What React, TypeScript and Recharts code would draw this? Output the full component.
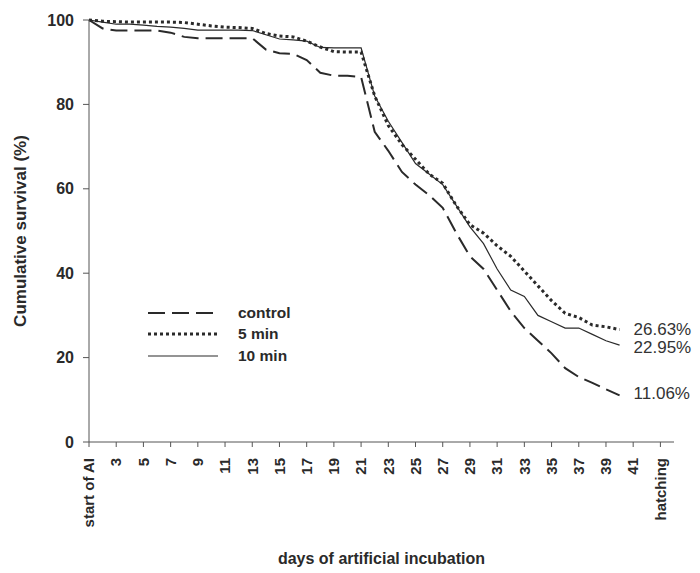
import { Label, Legend, Line, LineChart, XAxis, YAxis } from 'recharts';

// days of artificial incubation (1 = start of AI)
const days = [
  1, 2, 3, 4, 5, 6, 7, 8, 9, 10, 11, 12, 13, 14, 15, 16, 17, 18, 19, 20,
  21, 22, 23, 24, 25, 26, 27, 28, 29, 30, 31, 32, 33, 34, 35, 36, 37, 38, 39, 40,
];

const control = [
  100, 98, 97.5, 97.5, 97.5, 97.5, 97, 96, 95.7, 95.7, 95.7, 95.7, 95.7, 93, 92.1, 92, 90.5, 87.5, 86.8, 86.8,
  86.5, 73.5, 69, 64, 61, 58.5, 55.5, 49.5, 44, 41, 36, 31, 27, 24, 21, 17.5, 15.4, 14, 12.5, 11.06,
];

const min5 = [
  100, 99.7, 99.6, 99.5, 99.5, 99.5, 99.5, 99.4, 99, 98.6, 98.3, 98.2, 98, 96.8, 96.2, 96, 95, 93.6, 92.5, 92.4,
  92.4, 82, 75, 70.5, 67, 63.5, 61.3, 56, 51.5, 49.5, 46.5, 44, 40.5, 37, 33.5, 30.5, 29.5, 27.7, 27.3, 26.63,
];

const min10 = [
  100, 99.5, 99, 99, 98.8, 98.5, 98.3, 98, 97.6, 97.6, 97.6, 97.6, 97.5, 96.5, 95.5, 95.3, 95, 93.5, 93.4, 93.4,
  93.4, 82, 76, 71, 66, 63.5, 61, 56, 51, 47, 41, 36, 34.5, 30, 28.5, 27, 27, 25.5, 24, 22.95,
];

const xTicks = [1, 3, 5, 7, 9, 11, 13, 15, 17, 19, 21, 23, 25, 27, 29, 31, 33, 35, 37, 39, 41, 43];
const yTicks = [0, 20, 40, 60, 80, 100];

const endLabels = { control: '11.06%', min5: '26.63%', min10: '22.95%' };

const series = [
  { key: 'control', name: 'control', dash: '17 7', width: 2, labelDy: -2 },
  { key: 'min5', name: '5 min', dash: '3 3', width: 3, labelDy: -1 },
  { key: 'min10', name: '10 min', dash: undefined, width: 1.2, labelDy: 2 },
];

const data = days.map((d, i) => ({
  day: d,
  control: control[i],
  min5: min5[i],
  min10: min10[i],
}));

const FONT = '"Liberation Sans", Arial, sans-serif';
const INK = '#2a2a2a';

const tickText = (v: number) => (v === 1 ? 'start of AI' : v === 43 ? 'hatching' : String(v));

const XTick = ({ x, y, payload }: any) => (
  <g transform={`translate(${x},${y})`}>
    <text
      transform="rotate(-90)"
      x={-9}
      dy="0.35em"
      textAnchor="end"
      fill={INK}
      fontFamily={FONT}
      fontWeight="bold"
      fontSize={15}
    >
      {tickText(payload.value)}
    </text>
  </g>
);

const renderLegend = () => (
  <div style={{ fontFamily: FONT, fontWeight: 'bold', fontSize: 15.5, color: INK }}>
    {series.map((s) => (
      <div key={s.key} style={{ display: 'flex', alignItems: 'center', height: 21.5 }}>
        <svg width={92} height={10}>
          <line
            x1={2}
            y1={5}
            x2={72}
            y2={5}
            stroke={INK}
            strokeWidth={s.width}
            strokeDasharray={s.dash}
          />
        </svg>
        <span>{s.name}</span>
      </div>
    ))}
  </div>
);

const endLabel = (key: string, dy: number) => (props: any) => {
  const { x, y, index } = props;
  if (index !== days.length - 1) return null;
  return (
    <text
      x={x + 14}
      y={y + dy}
      dy="0.35em"
      fill="#333"
      fontFamily={FONT}
      fontSize={17}
    >
      {endLabels[key as keyof typeof endLabels]}
    </text>
  );
};

export default function App() {
  return (
    <div style={{ position: 'absolute', left: 0, top: 0, background: '#fff' }}>
      <LineChart width={700} height={573} data={data} margin={{ top: 20, right: 26, left: 0, bottom: 0 }}>
        <XAxis
          dataKey="day"
          type="number"
          domain={[1, 44]}
          ticks={xTicks}
          interval={0}
          tick={<XTick />}
          tickSize={5}
          height={131}
          stroke="#555"
        >
          <Label
            value="days of artificial incubation"
            position="insideBottom"
            offset={9}
            fill={INK}
            fontFamily={FONT}
            fontWeight="bold"
            fontSize={16}
          />
        </XAxis>
        <YAxis
          domain={[0, 100]}
          ticks={yTicks}
          interval={0}
          width={89}
          tickSize={6}
          tickMargin={9}
          stroke="#555"
          tick={{ fill: INK, fontFamily: FONT, fontWeight: 'bold', fontSize: 16 }}
        >
          <Label
            value="Cumulative survival (%)"
            angle={-90}
            position="insideLeft"
            offset={20}
            fill={INK}
            fontFamily={FONT}
            fontWeight="bold"
            fontSize={17}
            style={{ textAnchor: 'middle' }}
          />
        </YAxis>
        <Legend
          layout="horizontal"
          verticalAlign="middle"
          align="center"
          content={renderLegend}
          wrapperStyle={{ left: 146, top: 302, width: 170 }}
        />
        {series.map((s) => (
          <Line
            key={s.key}
            dataKey={s.key}
            name={s.name}
            type="linear"
            stroke={INK}
            strokeWidth={s.width}
            strokeDasharray={s.dash}
            dot={false}
            activeDot={false}
            isAnimationActive={false}
            label={endLabel(s.key, s.labelDy)}
          />
        ))}
      </LineChart>
    </div>
  );
}
